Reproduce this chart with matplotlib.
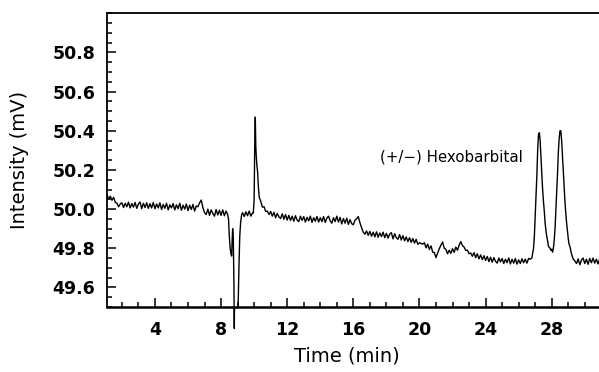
import numpy as np
import matplotlib
matplotlib.use("Agg")
import matplotlib.pyplot as plt
from matplotlib.ticker import MultipleLocator

# chromatogram trace (min, mV)
# noisy baseline segments are sampled every 0.1 min from a start time
base_a_start = 1.1
base_a = [50.072, 50.052, 50.066, 50.045, 50.060, 50.035, 50.030, 50.012, 50.026,
          50.032, 50.008, 50.030, 50.012, 50.036, 50.006, 50.028, 50.010, 50.034, 50.004,
          50.026, 50.036, 50.002, 50.030, 50.008, 50.032, 50.004, 50.028, 50.006, 50.034,
          50.002, 50.026, 50.006, 50.032, 49.998, 50.024, 50.004, 50.030, 49.996, 50.022,
          50.006, 50.028, 49.996, 50.022, 50.002, 50.030, 49.994, 50.020, 50.000, 50.026,
          49.992, 50.020, 49.998, 50.024, 49.990, 50.016, 50.012, 50.032, 50.046, 50.008,
          49.982, 49.972, 50.000, 49.968, 49.996, 49.978, 49.964, 49.998, 49.970, 49.994,
          49.968, 49.996, 49.966, 49.990, 49.972]

dip_t = [8.45, 8.50, 8.55, 8.60, 8.64, 8.67, 8.70, 8.74, 8.78, 8.80, 8.81, 8.95,
         9.03, 9.08, 9.13, 9.18, 9.24]
dip_v = [49.95, 49.86, 49.80, 49.77, 49.76, 49.84, 49.90, 49.85, 49.60, 49.39, 49.495, 49.495,
         49.50, 49.70, 49.86, 49.93, 49.97]

base_c_start = 9.3
base_c = [49.982, 49.962, 49.986, 49.966, 49.990, 49.964, 49.980]

spike_t = [9.95, 10.0, 10.04, 10.07, 10.10, 10.13, 10.17, 10.21, 10.26, 10.31, 10.4, 10.5]
spike_v = [49.98, 50.05, 50.35, 50.47, 50.32, 50.27, 50.22, 50.19, 50.11, 50.06, 50.04, 50.01]

base_d_start = 10.6
base_d = [50.012, 49.988, 49.990, 49.972,
          49.988, 49.964, 49.984, 49.956, 49.978, 49.960, 49.952, 49.976, 49.948, 49.972,
          49.944, 49.968, 49.942, 49.964, 49.938, 49.966, 49.944, 49.936, 49.964, 49.942,
          49.962, 49.934, 49.958, 49.940, 49.964, 49.932, 49.956, 49.938, 49.962, 49.934,
          49.956, 49.936, 49.962, 49.932, 49.954, 49.964, 49.940, 49.928, 49.956, 49.936,
          49.964, 49.934, 49.958, 49.924, 49.952, 49.928, 49.954, 49.922, 49.946, 49.926,
          49.920, 49.944, 49.950, 49.962, 49.930, 49.905, 49.882, 49.872, 49.888, 49.866,
          49.886, 49.862, 49.882, 49.858, 49.884, 49.856, 49.878, 49.860, 49.882, 49.854,
          49.876, 49.852, 49.872, 49.880, 49.848, 49.874, 49.854, 49.846, 49.870, 49.842,
          49.864, 49.838, 49.858, 49.834, 49.854, 49.830, 49.850, 49.826, 49.846, 49.820,
          49.828, 49.824, 49.821, 49.828, 49.802, 49.821, 49.794, 49.812, 49.780, 49.778,
          49.752, 49.776, 49.798, 49.816, 49.832, 49.800, 49.794, 49.772, 49.790, 49.774,
          49.798, 49.779, 49.806, 49.790, 49.816, 49.834, 49.814, 49.806, 49.789, 49.790,
          49.772, 49.776, 49.759, 49.778, 49.752, 49.772, 49.746, 49.766, 49.742, 49.762,
          49.738, 49.758, 49.732, 49.754, 49.729, 49.752, 49.734, 49.724, 49.750, 49.730,
          49.748, 49.722, 49.744, 49.726, 49.751, 49.720, 49.744, 49.724, 49.748, 49.719,
          49.741, 49.722, 49.746, 49.726, 49.744, 49.724, 49.748, 49.744]

# the two hexobarbital enantiomer peaks
peaks_t = [26.8, 26.9, 26.95, 27.0, 27.05, 27.1, 27.15, 27.2, 27.25, 27.3, 27.35, 27.4,
           27.45, 27.5, 27.55, 27.6, 27.65, 27.7, 27.75, 27.8, 27.9, 27.95, 28.0, 28.05,
           28.1, 28.15, 28.2, 28.25, 28.3, 28.35, 28.4, 28.45, 28.5, 28.55, 28.6, 28.65,
           28.7, 28.75, 28.8, 28.85, 28.9, 28.95, 29.0, 29.05, 29.1, 29.2, 29.3, 29.4]
peaks_v = [49.75, 49.80, 49.86, 49.96, 50.05, 50.17, 50.30, 50.38, 50.39, 50.35, 50.26, 50.18,
           50.10, 50.04, 49.99, 49.93, 49.89, 49.86, 49.84, 49.81, 49.80, 49.79, 49.795, 49.78,
           49.80, 49.84, 49.90, 49.99, 50.08, 50.18, 50.29, 50.36, 50.40, 50.40, 50.35, 50.27,
           50.18, 50.10, 50.04, 49.98, 49.93, 49.89, 49.85, 49.82, 49.81, 49.77, 49.745, 49.735]

base_e_start = 29.5
base_e = [49.722, 49.746, 49.716, 49.740, 49.750, 49.722, 49.744, 49.718, 49.748, 49.726,
          49.750, 49.724, 49.744, 49.720, 49.746]

x_ticks = [4, 8, 12, 16, 20, 24, 28]
y_ticks = [49.6, 49.8, 50.0, 50.2, 50.4, 50.6, 50.8]
y_labels = ["49.6", "49.8", "50.0", "50.2", "50.4", "50.6", "50.8"]


def seg(start, vals):
    return start + 0.1 * np.arange(len(vals))


time = np.concatenate([seg(base_a_start, base_a), dip_t, seg(base_c_start, base_c), spike_t,
                       seg(base_d_start, base_d), peaks_t, seg(base_e_start, base_e)])
intensity = np.concatenate([base_a, dip_v, base_c, spike_v, base_d, peaks_v, base_e])

fig = plt.figure(figsize=(5.99, 3.72), dpi=100)
ax = fig.add_axes([107 / 599, 1 - 307 / 372, 1 - 107 / 599, (307 - 13.3) / 372])

ax.plot(time, intensity, color="black", lw=1.0, clip_on=False)

ax.set_xlim(1.1, 30.86)
ax.set_ylim(49.5, 51.0)

ax.spines["right"].set_visible(False)
ax.spines["bottom"].set_linewidth(1.8)
ax.spines["left"].set_linewidth(1.3)
ax.spines["top"].set_linewidth(1.3)

ax.set_xticks(x_ticks)
ax.set_yticks(y_ticks)
ax.set_yticklabels(y_labels)
ax.xaxis.set_minor_locator(MultipleLocator(1))
ax.yaxis.set_minor_locator(MultipleLocator(0.05))
ax.tick_params(which="both", direction="in", top=False, right=False, width=1.1)
ax.tick_params(which="major", length=6.5)
ax.tick_params(which="minor", length=3.5)
ax.tick_params(axis="x", which="major", pad=10)
ax.tick_params(axis="y", which="major", pad=8.5)
for lab in ax.get_xticklabels() + ax.get_yticklabels():
    lab.set_fontsize(12.5)
    lab.set_fontweight("bold")

ax.set_ylabel("Intensity (mV)", fontsize=14)
ax.set_xlabel("Time (min)", fontsize=14)
ax.yaxis.set_label_coords(-0.1585, 0.5)
ax.xaxis.set_label_coords(0.488, -0.136)

ax.text(17.61, 50.265, "(+/\u2212) Hexobarbital", fontsize=10.8, ha="left", va="center")

fig.savefig("out.png", dpi=100)
